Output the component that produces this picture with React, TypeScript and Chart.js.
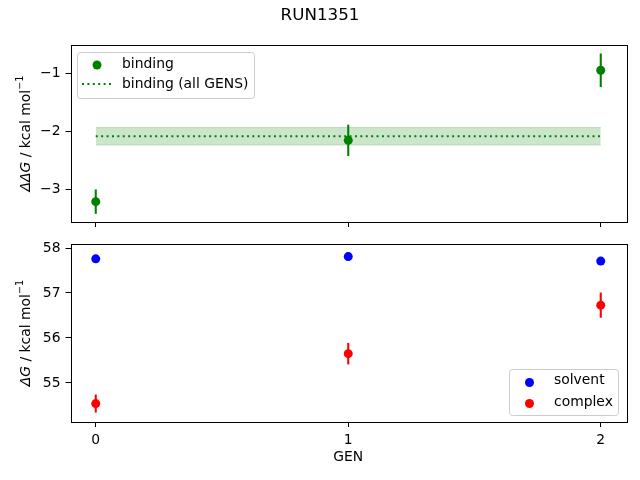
import React, { useEffect, useRef } from "react";
import { Chart, registerables } from "chart.js";

Chart.register(...registerables);

const TITLE = "RUN1351";
const GENS = [0, 1, 2];
const BINDING = [-3.21, -2.155, -0.95];
const BINDING_ERR = [0.21, 0.27, 0.29];
const BINDING_ALL = -2.086;
const BINDING_ALL_ERR = 0.15;
const SOLVENT = [57.76, 57.81, 57.71];
const SOLVENT_ERR = [0.02, 0.02, 0.02];
const COMPLEX = [54.54, 55.65, 56.73];
const COMPLEX_ERR = [0.2, 0.24, 0.28];
const X_TICKS = [0, 1, 2];
const TOP_Y_TICKS = [-3, -2, -1];
const BOTTOM_Y_TICKS = [55, 56, 57, 58];
const TOP_LEGEND = ["binding", "binding (all GENS)"];
const BOTTOM_LEGEND = ["solvent", "complex"];

const FONT = "DejaVu Sans";
const FS = 13.9;
const GREEN = "#008000";
const BLUE = "#0000ff";
const RED = "#ff0000";
const PR = 4.5;

const fmt = (v: number) => String(v).replace("-", "\u2212");

function frameAndErrors(series: { xs: number[]; ys: number[]; err: number[]; color: string }[]) {
  return {
    id: "frameErr",
    afterDatasetsDraw(chart: any) {
      const ctx = chart.ctx;
      const xs = chart.scales.x;
      const ys = chart.scales.y;
      ctx.save();
      ctx.lineWidth = 2.08;
      series.forEach((s) => {
        ctx.strokeStyle = s.color;
        s.ys.forEach((v, i) => {
          const px = xs.getPixelForValue(s.xs[i]);
          ctx.beginPath();
          ctx.moveTo(px, ys.getPixelForValue(v - s.err[i]));
          ctx.lineTo(px, ys.getPixelForValue(v + s.err[i]));
          ctx.stroke();
        });
      });
      const a = chart.chartArea;
      ctx.strokeStyle = "#000";
      ctx.lineWidth = 1;
      ctx.strokeRect(Math.round(a.left) + 0.5, Math.round(a.top) + 0.5, Math.round(a.right - a.left), Math.round(a.bottom - a.top));
      ctx.restore();
    },
  };
}

function drawYLabel(ctx: CanvasRenderingContext2D, x: number, cy: number, italicPart: string) {
  const parts = [
    { t: italicPart, font: `italic ${FS}px "${FONT}"`, dy: 0 },
    { t: " / kcal mol", font: `${FS}px "${FONT}"`, dy: 0 },
    { t: "\u22121", font: `${FS * 0.7}px "${FONT}"`, dy: -FS * 0.42 },
  ];
  ctx.save();
  ctx.translate(x, cy);
  ctx.rotate(-Math.PI / 2);
  ctx.textBaseline = "middle";
  ctx.textAlign = "left";
  ctx.fillStyle = "#000";
  let total = 0;
  parts.forEach((p) => {
    ctx.font = p.font;
    total += ctx.measureText(p.t).width;
  });
  let cx = -total / 2;
  parts.forEach((p) => {
    ctx.font = p.font;
    ctx.fillText(p.t, cx, p.dy);
    cx += ctx.measureText(p.t).width;
  });
  ctx.restore();
}

function legendBox(ctx: CanvasRenderingContext2D, x0: number, y0: number, x1: number, y1: number) {
  ctx.save();
  ctx.beginPath();
  (ctx as any).roundRect(x0 + 0.5, y0 + 0.5, x1 - x0, y1 - y0, 3);
  ctx.fillStyle = "rgba(255,255,255,0.8)";
  ctx.fill();
  ctx.strokeStyle = "#cccccc";
  ctx.lineWidth = 1;
  ctx.stroke();
  ctx.restore();
}

const topDecor = {
  id: "topDecor",
  afterDraw(chart: any) {
    const ctx = chart.ctx as CanvasRenderingContext2D;
    ctx.save();
    ctx.fillStyle = "#000";
    ctx.font = `${16.7}px "${FONT}"`;
    ctx.textAlign = "center";
    ctx.textBaseline = "middle";
    ctx.fillText(TITLE, 320, 16);
    const a = chart.chartArea;
    drawYLabel(ctx, 26, (a.top + a.bottom) / 2, "\u0394\u0394G");
    legendBox(ctx, 77, 52, 254, 98);
    ctx.beginPath();
    ctx.arc(97, 65, PR, 0, Math.PI * 2);
    ctx.fillStyle = GREEN;
    ctx.fill();
    ctx.strokeStyle = GREEN;
    ctx.lineWidth = 2.08;
    ctx.setLineDash([2, 3.4]);
    ctx.beginPath();
    ctx.moveTo(82, 84);
    ctx.lineTo(111, 84);
    ctx.stroke();
    ctx.setLineDash([]);
    ctx.fillStyle = "#000";
    ctx.font = `${FS}px "${FONT}"`;
    ctx.textAlign = "left";
    ctx.fillText(TOP_LEGEND[0], 122, 64.5);
    ctx.fillText(TOP_LEGEND[1], 122, 84);
    ctx.restore();
  },
};

const bottomDecor = {
  id: "bottomDecor",
  afterDraw(chart: any) {
    const ctx = chart.ctx as CanvasRenderingContext2D;
    const a = chart.chartArea;
    ctx.save();
    drawYLabel(ctx, 26, (a.top + a.bottom) / 2, "\u0394G");
    ctx.fillStyle = "#000";
    ctx.font = `${FS}px "${FONT}"`;
    ctx.textAlign = "center";
    ctx.textBaseline = "middle";
    ctx.fillText("GEN", (a.left + a.right) / 2, 457 - 232);
    legendBox(ctx, 509, 369 - 232, 618, 415 - 232);
    ctx.fillStyle = BLUE;
    ctx.beginPath();
    ctx.arc(529.5, 382.5 - 232, PR, 0, Math.PI * 2);
    ctx.fill();
    ctx.fillStyle = RED;
    ctx.beginPath();
    ctx.arc(529.5, 403.5 - 232, PR, 0, Math.PI * 2);
    ctx.fill();
    ctx.fillStyle = "#000";
    ctx.textAlign = "left";
    ctx.fillText(BOTTOM_LEGEND[0], 554, 380.5 - 232);
    ctx.fillText(BOTTOM_LEGEND[1], 554, 402 - 232);
    ctx.restore();
  },
};

function scales(yMin: number, yMax: number, yTicks: number[], showX: boolean, xHeight: number) {
  return {
    x: {
      type: "linear",
      min: -0.1,
      max: 2.1,
      afterBuildTicks: (s: any) => {
        s.ticks = X_TICKS.map((v) => ({ value: v }));
      },
      afterFit: (s: any) => {
        s.height = xHeight;
        s.paddingLeft = 0;
        s.paddingRight = 0;
      },
      border: { display: false },
      grid: { display: true, drawOnChartArea: false, drawTicks: true, tickLength: 5, color: "#000", lineWidth: 1 },
      ticks: {
        padding: 5,
        color: "#000",
        maxRotation: 0,
        font: { family: FONT, size: FS },
        callback: (v: any) => (showX ? fmt(v) : ""),
      },
    },
    y: {
      type: "linear",
      min: yMin,
      max: yMax,
      afterBuildTicks: (s: any) => {
        s.ticks = yTicks.map((v) => ({ value: v }));
      },
      afterFit: (s: any) => {
        s.width = 70.5;
        s.paddingTop = 0;
        s.paddingBottom = 0;
      },
      border: { display: false },
      grid: { display: true, drawOnChartArea: false, drawTicks: true, tickLength: 5, color: "#000", lineWidth: 1 },
      ticks: {
        padding: 5,
        color: "#000",
        font: { family: FONT, size: FS },
        callback: (v: any) => fmt(v),
      },
    },
  };
}

export default function App() {
  const topRef = useRef<HTMLCanvasElement>(null);
  const botRef = useRef<HTMLCanvasElement>(null);

  useEffect(() => {
    const pts = (ys: number[]) => GENS.map((g, i) => ({ x: g, y: ys[i] }));
    const flat = (v: number) => [
      { x: GENS[0], y: v },
      { x: GENS[GENS.length - 1], y: v },
    ];
    const top = new Chart(topRef.current!, {
      type: "line",
      data: {
        datasets: [
          {
            label: TOP_LEGEND[0],
            data: pts(BINDING),
            showLine: false,
            pointRadius: PR,
            pointBorderWidth: 0,
            pointBackgroundColor: GREEN,
            borderColor: GREEN,
          },
          {
            label: TOP_LEGEND[1],
            data: flat(BINDING_ALL),
            pointRadius: 0,
            borderColor: GREEN,
            borderWidth: 2.08,
            borderDash: [2, 3.4],
            fill: false,
          },
          {
            label: "upper",
            data: flat(BINDING_ALL + BINDING_ALL_ERR),
            pointRadius: 0,
            borderColor: "rgba(0,128,0,0.2)",
            borderWidth: 1,
            backgroundColor: "rgba(0,128,0,0.2)",
            fill: "+1",
          },
          {
            label: "lower",
            data: flat(BINDING_ALL - BINDING_ALL_ERR),
            pointRadius: 0,
            borderColor: "rgba(0,128,0,0.2)",
            borderWidth: 1,
            fill: false,
          },
        ],
      } as any,
      options: {
        responsive: false,
        animation: false,
        layout: { autoPadding: false, padding: { top: 45, right: 14, left: 0, bottom: 0 } },
        plugins: { legend: { display: false }, title: { display: false }, tooltip: { enabled: false } },
        scales: scales(-3.56, -0.515, TOP_Y_TICKS, false, 10) as any,
      },
      plugins: [frameAndErrors([{ xs: GENS, ys: BINDING, err: BINDING_ERR, color: GREEN }]), topDecor],
    });
    const bot = new Chart(botRef.current!, {
      type: "line",
      data: {
        datasets: [
          {
            label: BOTTOM_LEGEND[1],
            data: pts(COMPLEX),
            showLine: false,
            pointRadius: PR,
            pointBorderWidth: 0,
            pointBackgroundColor: RED,
            borderColor: RED,
          },
          {
            label: BOTTOM_LEGEND[0],
            data: pts(SOLVENT),
            showLine: false,
            pointRadius: PR,
            pointBorderWidth: 0,
            pointBackgroundColor: BLUE,
            borderColor: BLUE,
          },
        ],
      } as any,
      options: {
        responsive: false,
        animation: false,
        layout: { autoPadding: false, padding: { top: 12, right: 14, left: 0, bottom: 0 } },
        plugins: { legend: { display: false }, title: { display: false }, tooltip: { enabled: false } },
        scales: scales(54.13, 58.09, BOTTOM_Y_TICKS, true, 58) as any,
      },
      plugins: [
        frameAndErrors([
          { xs: GENS, ys: SOLVENT, err: SOLVENT_ERR, color: BLUE },
          { xs: GENS, ys: COMPLEX, err: COMPLEX_ERR, color: RED },
        ]),
        bottomDecor,
      ],
    });
    return () => {
      top.destroy();
      bot.destroy();
    };
  }, []);

  return (
    <div style={{ position: "fixed", left: 0, top: 0, width: 640, height: 480, background: "#fff" }}>
      <canvas ref={topRef} width={640} height={232} style={{ position: "absolute", left: 0, top: 0, width: 640, height: 232 }} />
      <canvas ref={botRef} width={640} height={248} style={{ position: "absolute", left: 0, top: 232, width: 640, height: 248 }} />
    </div>
  );
}
